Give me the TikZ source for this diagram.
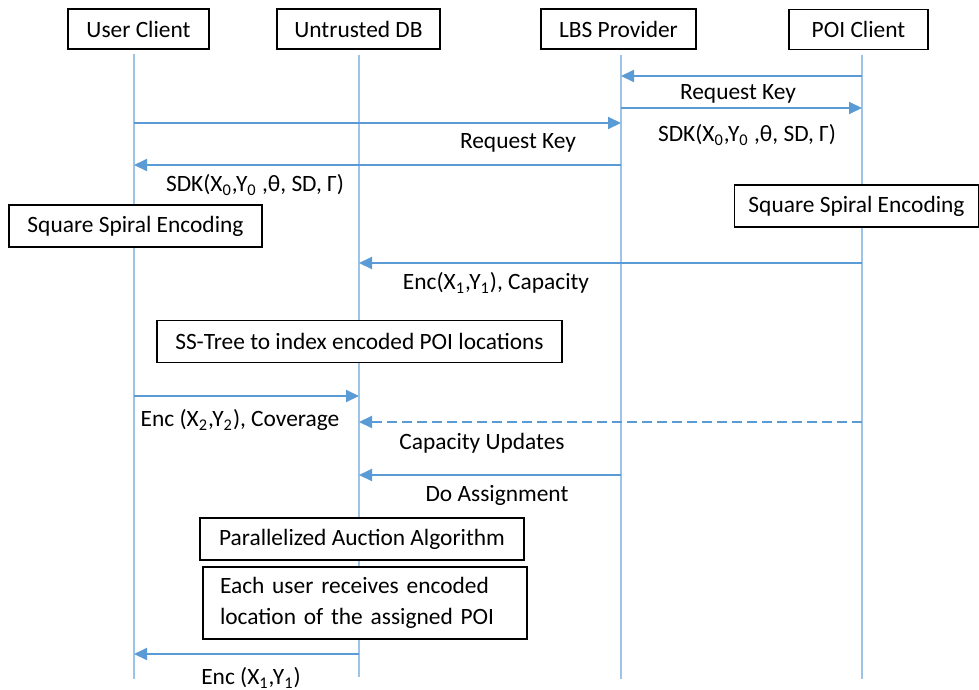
\documentclass[tikz,border=0pt]{standalone}
\usepackage{fontspec}
\setmainfont{Carlito}
\usepackage{tikz}
\usetikzlibrary{%
  arrows.meta,%
  positioning}

\definecolor{lifeblue}{HTML}{9DC3E6}
\definecolor{msgblue}{HTML}{5B9BD5}

\begin{document}
\begin{tikzpicture}[x=0.5pt,y=-0.5pt,
  every node/.append style={font=\fontsize{11.7}{15.5}\selectfont},
  actor/.style={rectangle,draw,line width=0.7pt,minimum height=20pt},
  note/.style={rectangle,draw,fill=white,line width=0.7pt,minimum height=21pt},
  life/.style={draw=lifeblue,line width=0.6pt},
  msg/.style={draw=msgblue,line width=1pt,-{Triangle[length=6.5pt,width=6pt]}},
  upd/.style={msg,dash pattern=on 5pt off 2.5pt}]
\useasboundingbox (0,0) rectangle (979,690);
% acteurs et lignes de vie
\node (uc) at (138.5,29) [actor,minimum width=70.5pt] {User Client};
\node (db) at (358.5,29) [actor,minimum width=81.5pt] {Untrusted DB};
\node (lbs) at (618.5,29) [actor,minimum width=77.5pt] {LBS Provider};
\node (poi) at (858.5,29.5) [actor,minimum width=69.5pt] {POI Client};
\coordinate (ucT) at (134,54);  \coordinate (ucB) at (134,679);
\coordinate (dbT) at (359,55);  \coordinate (dbB) at (359,677);
\coordinate (lbsT) at (621,55); \coordinate (lbsB) at (621,679);
\coordinate (poiT) at (862,55); \coordinate (poiB) at (862,679);
\draw[life] (ucT) -- (ucB);
\draw[life] (dbT) -- (dbB);
\draw[life] (lbsT) -- (lbsB);
\draw[life] (poiT) -- (poiB);
\foreach \n/\y in {1/76,2/108,3/123,4/165,5/263,6/396,7/422,8/475,9/654}
  \coordinate (r\n) at (0,\y);
% traitements
\node (sse1) at (135.5,226) [note,minimum width=126.5pt] {Square Spiral Encoding};
\node (sse2) at (856.5,206) [note,minimum width=122pt] {Square Spiral Encoding};
\node (sst) at (359.5,341.5) [note,minimum width=202.5pt] {SS-Tree to index encoded POI locations};
\node (paa) at (362,539) [note,minimum width=162pt] {Parallelized Auction Algorithm};
\node (each) at (365,603) [note,minimum height=36pt,align=left,text width=145pt,inner xsep=8.5pt] {Each user receives encoded\\location of the assigned POI};
% messages
\draw[msg] (poiT |- r1) -- (lbsT |- r1);
\draw[msg] (lbsT |- r2) -- (poiT |- r2);
\draw[msg] (ucT |- r3) -- (lbsT |- r3);
\draw[msg] (lbsT |- r4) -- (ucT |- r4);
\draw[msg] (poiT |- r5) -- (dbT |- r5);
\draw[msg] (ucT |- r6) -- (dbT |- r6);
\draw[upd] (poiT |- r7) -- (dbT |- r7);
\draw[msg] (lbsT |- r8) -- (dbT |- r8);
\draw[msg] (dbT |- r9) -- (ucT |- r9);
\node (k1) at (738,94) {Request Key};
\node (s1) at (747,135) {SDK(X\textsubscript{0},Y\textsubscript{0} ,θ, SD, Γ)};
\node (k2) at (518,143) {Request Key};
\node (s2) at (255,185) {SDK(X\textsubscript{0},Y\textsubscript{0} ,θ, SD, Γ)};
\node (e1) at (496,283) {Enc(X\textsubscript{1},Y\textsubscript{1}), Capacity};
\node (e2) at (240,420) {Enc (X\textsubscript{2},Y\textsubscript{2}), Coverage};
\node (cu) at (482,443) {Capacity Updates};
\node (da) at (497,495) {Do Assignment};
\node (e3) at (251,678) {Enc (X\textsubscript{1},Y\textsubscript{1})};
\end{tikzpicture}
\end{document}
